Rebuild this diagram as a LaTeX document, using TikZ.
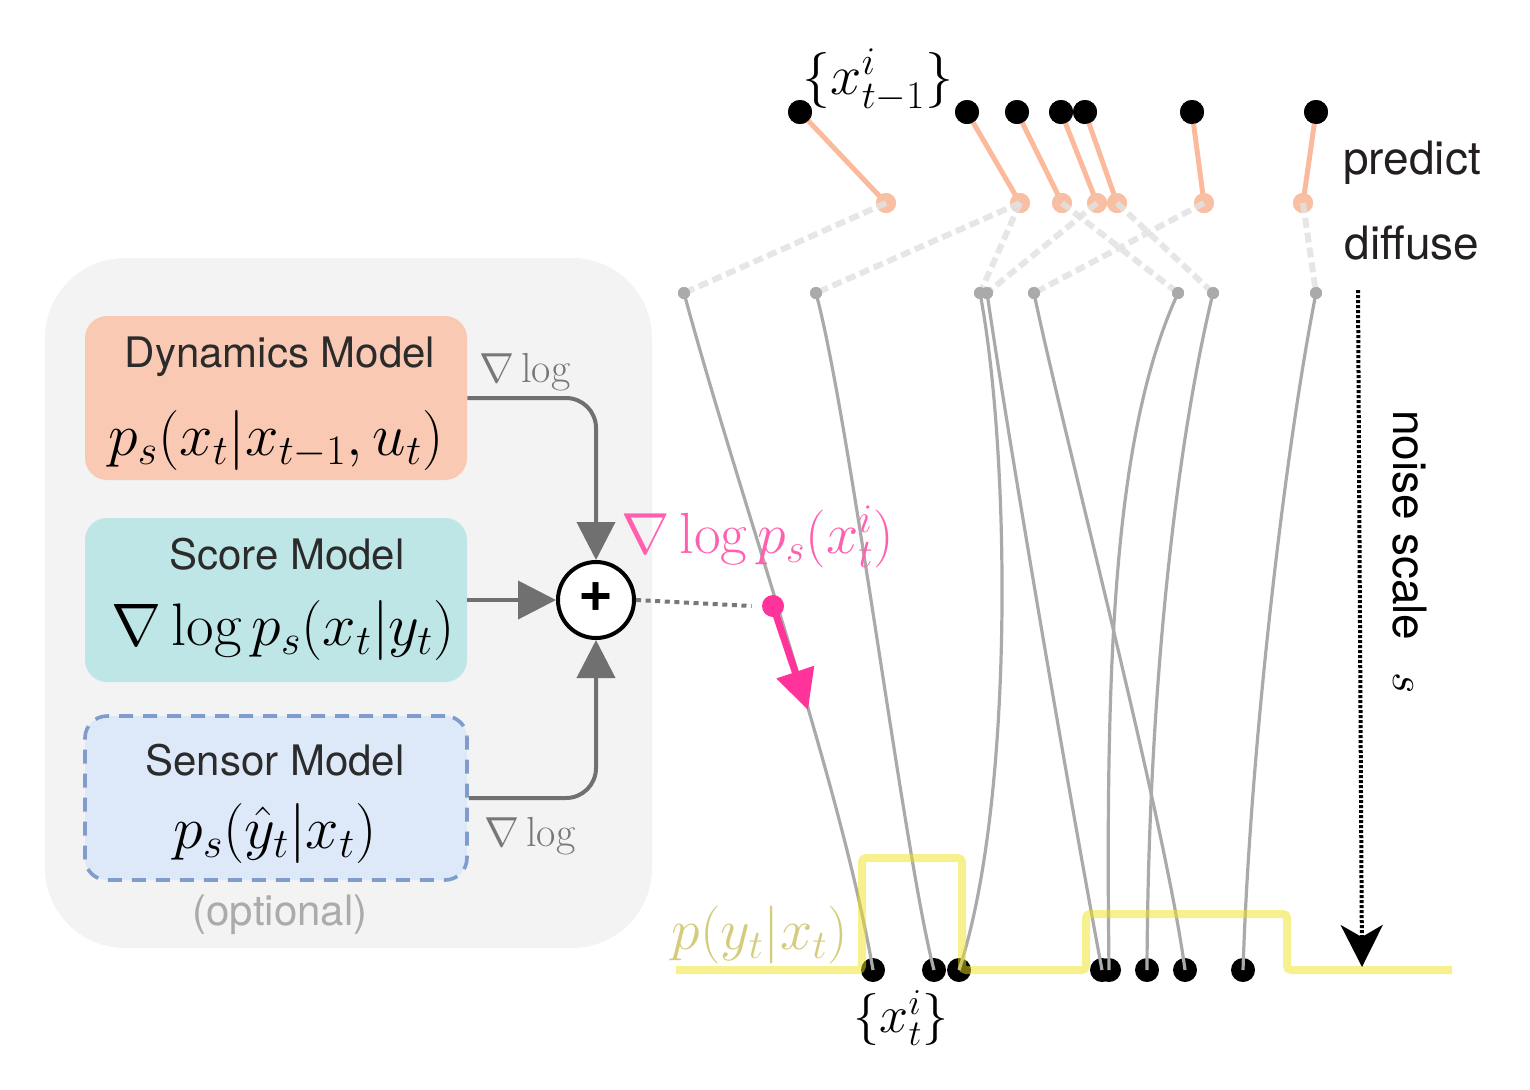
\RequirePackage{fix-cm}
\documentclass[tikz,border=0pt]{standalone}
\usepackage{fontspec}
\newfontfamily\hv{TeX Gyre Heros}
\usetikzlibrary{arrows.meta}
\definecolor{panelc}{HTML}{F3F3F3}
\definecolor{dync}{HTML}{F9C9B3}
\definecolor{scorec}{HTML}{BEE6E6}
\definecolor{sensc}{HTML}{DDE8F8}
\definecolor{sensb}{HTML}{7F9DCC}
\definecolor{garr}{HTML}{707070}
\definecolor{glab}{HTML}{777777}
\definecolor{txtc}{HTML}{2B2B2B}
\definecolor{optc}{HTML}{ABABAB}
\definecolor{orl}{HTML}{FBBA9C}
\definecolor{ord}{HTML}{F9BFA3}
\definecolor{difc}{HTML}{E2E2E2}
\definecolor{curc}{HTML}{AAAAAA}
\definecolor{yel}{HTML}{EDE21E}
\definecolor{yellab}{HTML}{D4CC7C}
\definecolor{pinkc}{HTML}{FF3399}
\definecolor{pinkl}{HTML}{FF5FAE}
\definecolor{darkt}{HTML}{231F1F}
\newcommand\fsbox{\fontsize{21}{25}\selectfont}
\newcommand\fsmath{\fontsize{30}{35}\selectfont}
\newcommand\fsside{\fontsize{23}{27}\selectfont}
\begin{document}
\begin{tikzpicture}[x=0.5pt,y=-0.5pt,
  box/.style={rectangle, rounded corners=11pt, minimum width=191pt, minimum height=82pt, inner sep=0pt},
  boxtitle/.style={inner sep=0pt, text=txtc, font=\hv\fsbox},
  boxmath/.style={inner sep=0pt, font=\fsmath},
  garrow/.style={draw=garr, line width=2pt, -{Triangle[width=19pt,length=19pt]}},
  blackdot/.style={circle, fill=black, minimum size=12pt, inner sep=0pt},
  orangedot/.style={circle, fill=ord, minimum size=10pt, inner sep=0pt},
  greydot/.style={circle, fill=curc, minimum size=6pt, inner sep=0pt},
  predline/.style={draw=orl, line width=2.5pt},
  difline/.style={draw=difc, line width=3pt, dash pattern=on 5pt off 2.5pt, opacity=0.85},
  curve/.style={draw=curc, line width=1.6pt},
  sidetext/.style={inner sep=0pt, text=darkt, font=\hv\fsside}
]
\useasboundingbox (0,0) rectangle (1530,1089);

% left panel
\fill[panelc, rounded corners=40pt] (45,258) rectangle (652,948);

\node[box, fill=dync] (dyn) at (276,398) {};
\node[box, fill=scorec] (score) at (276,600) {};
\node[box, fill=sensc, draw=sensb, line width=1.8pt, dash pattern=on 7pt off 5pt] (sens) at (276,798) {};

\node[boxtitle] (dynt) at (280,357) {Dynamics Model};
\node[boxmath] (dynm) at (276,440) {$p_s(x_t|x_{t-1},u_t)$};
\node[boxtitle] (scoret) at (287,554) {Score Model};
\node[boxmath] (scorem) at (283,630) {$\nabla\log p_s(x_t|y_t)$};
\node[boxtitle] (senst) at (275,760) {Sensor Model};
\node[boxmath] (sensm) at (275,833) {$p_s(\hat{y}_t|x_t)$};
\node[inner sep=0pt, text=optc, font=\hv\fsbox] (opt) at (280,915) {(optional)};

\node[circle, draw=black, fill=white, line width=2pt, minimum size=38pt, inner sep=0pt] (plus) at (596,600) {};
\node[inner sep=0pt, font=\hv\bfseries\fontsize{30}{30}\selectfont] (plust) at (596,597) {+};

\draw[garrow, rounded corners=15pt] (dyn.east) -- (596,398) -- (plus.north);
\draw[garrow] (score.east) -- (plus.west);
\draw[garrow, rounded corners=15pt] (sens.east) -- (596,798) -- (plus.south);

\node[inner sep=0pt, text=glab, font=\fontsize{21}{25}\selectfont] (lab1) at (525,372) {$\nabla\log$};
\node[inner sep=0pt, text=glab, font=\fontsize{21}{25}\selectfont] (lab2) at (530,836) {$\nabla\log$};

% particles top
\foreach \n/\x in {1/800,2/967,3/1017,4/1061,5/1085,6/1192,7/1316}
  \node[blackdot] (t\n) at (\x,112) {};
\foreach \n/\x in {1/886,2/1020,3/1062,4/1097,5/1117,6/1204,7/1303}
  \node[orangedot] (o\n) at (\x,203) {};
\foreach \n/\x in {1/684,2/816,3/980,4/987,5/1034,6/1178,7/1213,8/1316}
  \node[greydot] (g\n) at (\x,293) {};
\foreach \n/\x in {1/873,2/934,3/959,4/1102,5/1109,6/1147,7/1185,8/1243}
  \node[blackdot] (b\n) at (\x,970) {};

\foreach \n in {1,...,7}
  \draw[predline] (t\n.center) -- (o\n.center);
\foreach \n in {1,...,7}
  \node[orangedot] at (o\n) {};
\foreach \n in {1,...,7}
  \node[blackdot] at (t\n) {};

\draw[difline] (o1.center) -- (g1.center);
\draw[difline] (o2.center) -- (g2.center);
\draw[difline] (o2.center) -- (g3.center);
\draw[difline] (o4.center) -- (g4.center);
\draw[difline] (o6.center) -- (g5.center);
\draw[difline] (o3.center) -- (g6.center);
\draw[difline] (o5.center) -- (g7.center);
\draw[difline] (o7.center) -- (g8.center);
\foreach \n in {1,...,8}
  \node[greydot] at (g\n) {};

% curves
\draw[curve] (g1.center) .. controls (740,500) and (840,780) .. (b1.center);
\draw[curve] (g2.center) .. controls (850,420) and (905,860) .. (b2.center);
\draw[curve] (g3.center) .. controls (1010,450) and (1015,800) .. (b3.center);
\draw[curve] (g4.center) .. controls (1010,450) and (1070,800) .. (b4.center);
\draw[curve] (g5.center) .. controls (1060,420) and (1165,820) .. (b7.center);
\draw[curve] (g6.center) .. controls (1115,430) and (1105,650) .. (b5.center);
\draw[curve] (g7.center) .. controls (1175,450) and (1148,700) .. (b6.center);
\draw[curve] (g8.center) .. controls (1285,450) and (1250,750) .. (b8.center);

% likelihood
\draw[yel, line width=4pt, opacity=0.5, rounded corners=2pt] (676,970) -- (862,970) -- (862,858) -- (962,858) -- (962,970) -- (1086,970) -- (1086,914) -- (1287,914) -- (1287,970) -- (1452,970);
\node[inner sep=0pt, text=yellab, font=\fontsize{29}{34}\selectfont] (plik) at (760,935) {$p(y_t|x_t)$};

% score arrow
\node[circle, fill=pinkc, minimum size=11pt, inner sep=0pt] (pd) at (773,606) {};
\coordinate (ptip) at (808,710);
\draw[pinkc, line width=3.5pt, -{Triangle[width=19pt,length=20pt]}] (pd.center) -- (ptip);
\draw[glab, line width=2pt, dash pattern=on 2.5pt off 2.3pt] (plus.east) -- ([xshift=-5pt]pd.west);
\node[inner sep=0pt, text=pinkl, font=\fontsize{29}{34}\selectfont] (plab) at (758,537) {$\nabla\log p_s(x^i_t)$};

% labels
\node[inner sep=0pt, font=\fontsize{28}{32}\selectfont] (ltop) at (878,80) {$\{x^i_{t-1}\}$};
\node[inner sep=0pt, font=\fontsize{26}{30}\selectfont] (lbot) at (901,1018) {$\{x^i_t\}$};
\node[sidetext] (pred) at (1412,163) {predict};
\node[sidetext] (diff) at (1412,243) {diffuse};

% noise scale
\coordinate (na) at (1358,290);
\coordinate (nb) at (1362,967);
\draw[black, line width=2pt, dash pattern=on 1.5pt off 1pt, -{Stealth[width=21pt,length=21pt,inset=6pt]}] (na) -- (nb);
\node[sidetext, text=black, rotate=-90] (noise) at (1410,552) {noise scale\hspace{16pt}$s$};
\end{tikzpicture}
\end{document}
